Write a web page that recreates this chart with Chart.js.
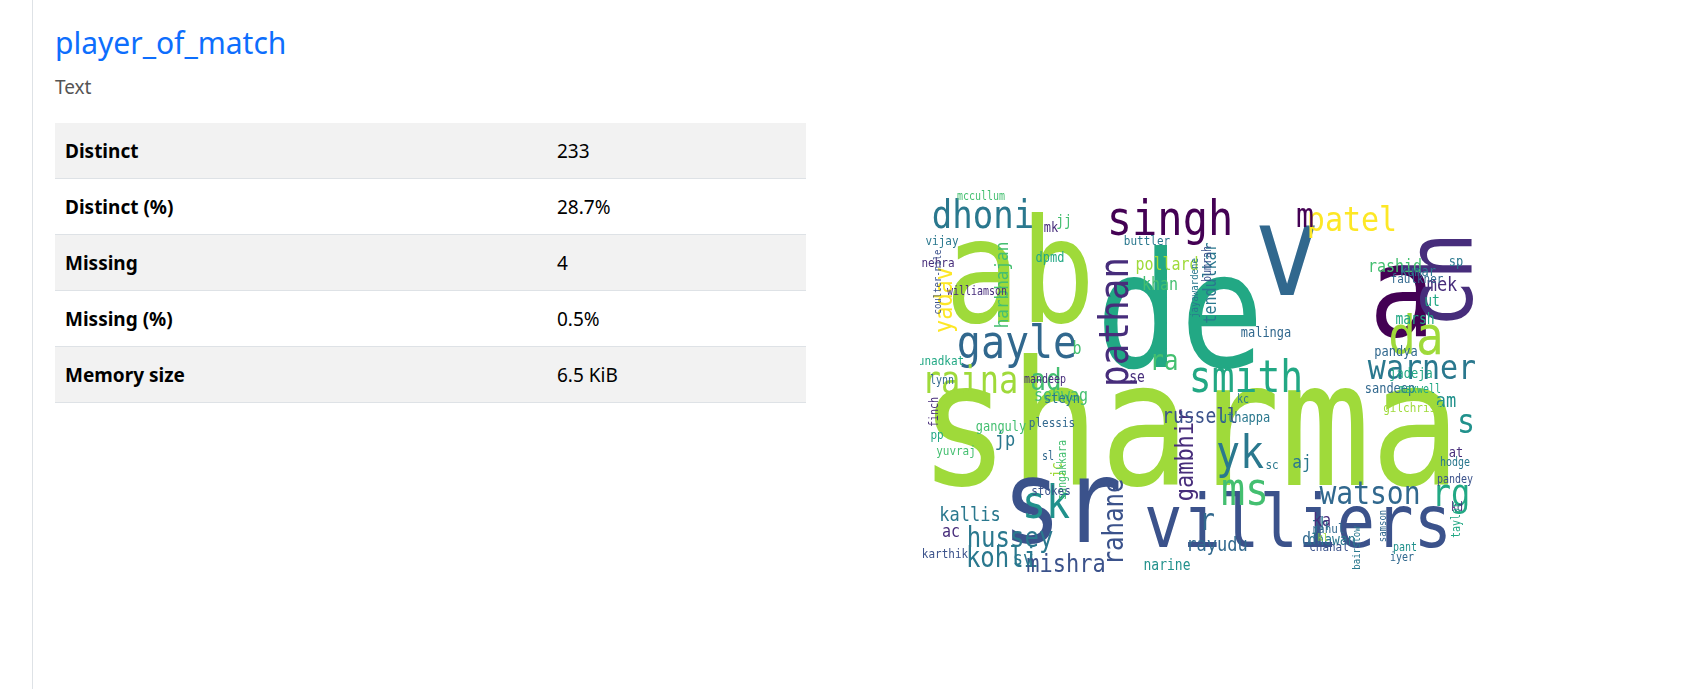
<!DOCTYPE html>
<html>
<head>
<meta charset="utf-8">
<script src="https://cdn.jsdelivr.net/npm/chart.js@4"></script>
<style>
  body { margin: 0; background: #fff; font-family: "Segoe UI", "Noto Sans", sans-serif; }
  .side { position: absolute; left: 32px; top: 0; width: 1px; height: 689px; background: #dee2e6; }
  h1 { position: absolute; left: 55px; top: 22px; margin: 0; font-size: 30px; font-weight: 400; color: #0d6efd; }
  .sub { position: absolute; left: 55px; top: 74px; font-size: 19px; color: #555; }
  table { position: absolute; left: 55px; top: 123px; width: 751px; border-collapse: collapse; font-size: 19px; }
  td { height: 55px; border-bottom: 1px solid #dee2e6; padding: 0 0 0 10px; }
  td:first-child { font-weight: 700; width: 482px; }
  tr:nth-child(odd) td { background: #f2f2f2; }
  #wrap { position: absolute; left: 920px; top: 190px; width: 560px; height: 400px; }
</style>
</head>
<body>
<div class="side"></div>
<h1>player_of_match</h1>
<div class="sub">Text</div>
<table id="stats"></table>
<div id="wrap"><canvas id="cloud"></canvas></div>
<script>
const statLabels = ["Distinct", "Distinct (%)", "Missing", "Missing (%)", "Memory size"];
const statValues = ["233", "28.7%", "4", "0.5%", "6.5 KiB"];

// word cloud: word, centre (page px), font size, rotation (deg), palette index
const words = ["sharma","ab","de","v","a","ch","sr","villiers","singh","dhoni","patel","m","gayle","pathan","da","smith","warner","raina","ad","ra","yadav","harbhajan","pollard","khan","tendulkar","rashid","mek","s","am","yk","gambhir","ms","watson","rg","sk","rahane","r","hussey","kohli","mishra","narine","rayudu","dhawan","kallis","ac","russell","jp","sehwag","pandya","jadeja","marsh","ut","jj","mk","mccullum","steyn","ganguly","uthappa","malinga","sandeep","gilchrist","jh","ka","dr","aj","sc","at","sp","kumar","faulkner","hodge","pandey","lynn","unadkat","finch","pp","yuvraj","sv","karthik","nehra","vijay","buttler","bumrah","dpmd","b","se","kc","sl","jc","sangakkara","mandeep","plessis","stokes","kd","pant","iyer","chahal","taylor","jayawardene","samson","bairstow","kl","rahul","maxwell","williamson","coulter-nile"];
const wordX = [1190,1020,1180,1287,1402,1448,1062,1298,1170,983,1352,1305,1017,1117,1416,1246,1422,970,1046,1164,945,1003,1167,1160,1212,1395,1442,1466,1446,1240,1186,1245,1370,1451,1046,1116,1207,1010,1002,1066,1167,1217,1332,970,951,1200,1005,1061,1396,1411,1415,1432,1064,1051,981,1062,1001,1245,1266,1390,1413,1320,1322,1311,1302,1272,1456,1456,1418,1417,1455,1455,942,941,935,937,956,1023,945,938,942,1147,1208,1050,1077,1137,1243,1048,1058,1063,1045,1052,1051,1457,1405,1402,1329,1457,1195,1383,1357,1323,1328,1420,977,938];
const wordY = [440,285,325,262,303,280,512,528,222,218,222,218,346,322,340,381,370,383,382,363,300,285,266,286,283,268,286,424,402,456,455,493,496,496,506,522,522,540,560,565,566,546,541,516,533,418,441,397,352,374,320,302,222,228,197,399,427,418,333,389,409,526,522,541,463,466,453,262,272,280,463,480,381,362,412,436,452,560,555,264,242,242,264,258,350,378,400,457,470,470,380,424,492,508,548,558,548,520,288,526,548,538,530,390,292,282];
const wordSize = [150,125,140,110,110,80,100,64,42,34,30,30,40,36,46,38,30,32,26,24,22,16,15,15,15,15,17,30,17,40,22,40,28,32,40,24,26,24,24,22,13,17,13,17,15,18,17,15,12,12,13,13,13,12,10,12,12,12,12,12,11,15,15,15,16,11,12,12,12,11,10,10,10,11,10,11,11,17,11,11,11,11,10,12,15,13,10,10,13,10,10,11,11,10,10,10,11,10,9,9,9,9,11,10,10,9];
const wordRot = [0,0,0,0,0,-90,0,0,0,0,0,0,0,-90,0,0,0,0,0,0,-90,-90,0,0,-90,0,0,0,0,0,-90,0,0,0,0,-90,0,0,0,0,0,0,0,0,0,0,0,0,0,0,0,0,0,0,0,0,0,0,0,0,0,0,0,0,0,0,0,0,0,0,0,0,0,0,-90,0,0,0,0,0,0,0,-90,0,0,0,0,0,-90,-90,0,0,0,0,0,0,0,-90,-90,-90,-90,0,0,0,0,-90];
const wordColor = [8,8,6,3,0,1,2,2,0,4,9,0,3,1,8,6,4,8,7,7,9,7,8,7,4,7,1,5,5,4,1,7,3,6,5,2,3,4,4,2,5,3,4,4,1,2,4,7,3,6,6,6,7,1,7,4,7,4,3,3,8,4,1,3,4,4,1,4,4,3,4,2,3,6,1,6,7,4,2,1,4,4,2,6,7,1,4,3,8,7,1,3,2,1,5,3,2,6,4,3,4,8,3,6,1,2];
const palette = ["#440154","#472d7b","#3b528b","#31688e","#2a788e","#21918c","#22a884","#44bf70","#9fda3a","#fde725"];

let rows = "";
statLabels.forEach((l, i) => { rows += `<tr><td>${l}</td><td>${statValues[i]}</td></tr>`; });
document.getElementById("stats").innerHTML = rows;

const wordPlugin = {
  id: "words",
  afterDatasetsDraw(chart) {
    const ctx = chart.ctx;
    chart.getDatasetMeta(0).data.forEach((pt, i) => {
      ctx.save();
      ctx.translate(pt.x, pt.y);
      ctx.rotate(wordRot[i] * Math.PI / 180);
      ctx.scale(1, 1.15);
      ctx.font = wordSize[i] + "px 'DejaVu Sans Mono'";
      ctx.fillStyle = palette[wordColor[i]];
      ctx.textAlign = "center";
      ctx.textBaseline = "middle";
      ctx.fillText(words[i], 0, 0);
      ctx.restore();
    });
  }
};

new Chart(document.getElementById("cloud"), {
  type: "scatter",
  data: {
    datasets: [{
      data: words.map((w, i) => ({ x: wordX[i], y: wordY[i] })),
      pointRadius: 0
    }]
  },
  options: {
    responsive: true,
    maintainAspectRatio: false,
    animation: false,
    layout: { padding: 0 },
    plugins: { legend: { display: false }, tooltip: { enabled: false } },
    scales: {
      x: { display: false, min: 920, max: 1480 },
      y: { display: false, min: 190, max: 590, reverse: true }
    }
  },
  plugins: [wordPlugin]
});
</script>
</body>
</html>
